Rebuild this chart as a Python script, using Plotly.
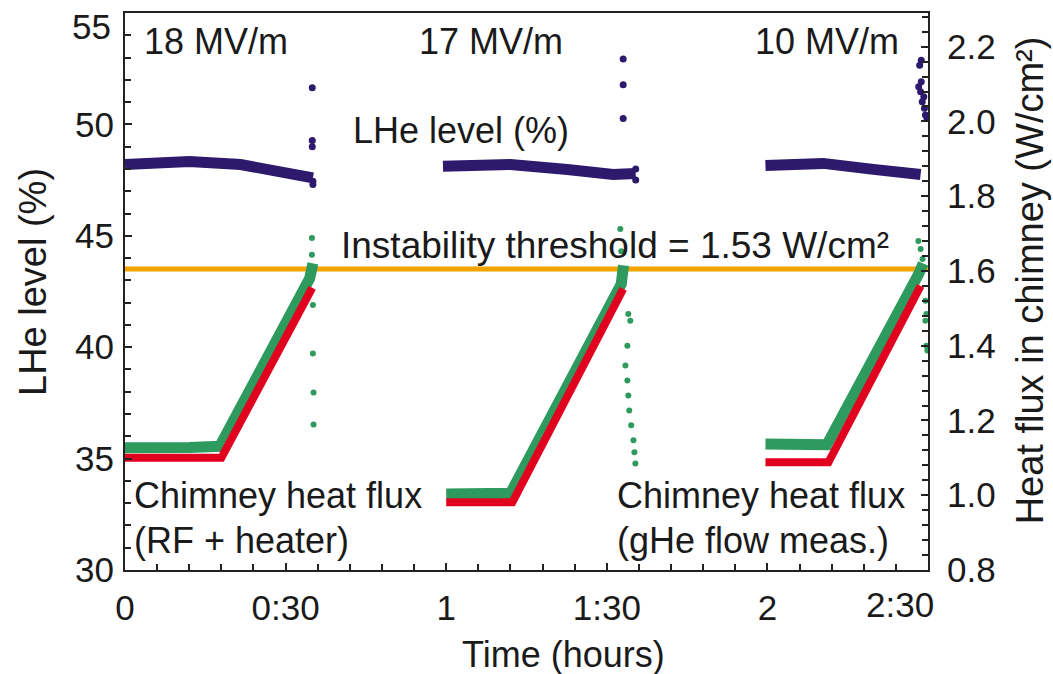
import plotly.graph_objects as go

# ---------------- data (time in hours) ----------------
# LHe level (%) - left axis, dense band per run
lhe_t1 = [0.0, 0.2, 0.36, 0.475, 0.57, 0.585]
lhe_v1 = [48.2, 48.33, 48.2, 47.95, 47.75, 47.6]
lhe_t2 = [0.99, 1.2, 1.377, 1.52, 1.59]
lhe_v2 = [48.12, 48.2, 47.98, 47.75, 47.8]
lhe_t3 = [1.994, 2.174, 2.33, 2.477]
lhe_v3 = [48.16, 48.25, 47.98, 47.75]
# LHe level sparse points at end of runs
lhe_pts_t = [0.583, 0.583, 0.583, 0.585, 0.585,
             1.551, 1.551, 1.551, 1.59, 1.59,
             2.479, 2.474, 2.479, 2.471, 2.477, 2.487, 2.482, 2.489, 2.492, 2.497]
lhe_pts_v = [51.65, 49.28, 49.0, 47.45, 47.3,
             52.94, 51.78, 50.26, 47.5, 48.0,
             52.88, 52.66, 51.91, 51.69, 51.47, 51.24, 51.02, 50.72, 50.42, 50.27]

# Chimney heat flux from gHe flow measurement (W/cm2) - right axis
ghe_t1 = [0.0, 0.10, 0.20, 0.295, 0.575, 0.585]
ghe_q1 = [1.127, 1.131, 1.128, 1.131, 1.58, 1.62]
ghe_t2 = [1.0, 1.10, 1.2, 1.545, 1.552]
ghe_q2 = [1.003, 1.007, 1.005, 1.565, 1.615]
ghe_t3 = [1.994, 2.10, 2.185, 2.47, 2.485]
ghe_q3 = [1.137, 1.132, 1.135, 1.59, 1.62]
ghe_pts_t = [0.582, 0.582, 0.585, 0.585, 0.587, 0.587,
             1.542, 1.545, 1.567, 1.573, 1.564, 1.558, 1.564, 1.567, 1.570, 1.576, 1.583, 1.586, 1.589,
             2.470, 2.477, 2.483, 2.492, 2.495, 2.492, 2.495, 2.498]
ghe_pts_q = [1.688, 1.643, 1.509, 1.379, 1.275, 1.189,
             1.712, 1.653, 1.485, 1.467, 1.40, 1.347, 1.307, 1.267, 1.227, 1.187, 1.147, 1.115, 1.085,
             1.68, 1.659, 1.632, 1.52, 1.485, 1.467, 1.40, 1.387]

# Chimney heat flux from RF + heater (W/cm2) - right axis
rf_t1 = [0.0, 0.30, 0.583]
rf_q1 = [1.10, 1.10, 1.555]
rf_t2 = [1.0, 1.206, 1.551]
rf_q2 = [0.981, 0.981, 1.552]
rf_t3 = [1.994, 2.19, 2.477]
rf_q3 = [1.088, 1.088, 1.56]

# Instability threshold line
thr_t = [0.0, 2.5]
thr_q = [1.605, 1.605]

# tick labels (edge labels drawn separately, nudged inside like the original)
x_tickvals = [0, 0.5, 1, 1.5, 2, 2.5]
x_ticktext = ["0", "0:30", "1", "1:30", "2", ""]
x_edge_label = "2:30"
y_tickvals = [30, 35, 40, 45, 50, 55]
y_ticktext = ["30", "35", "40", "45", "50", ""]
y_edge_label = "55"
y2_tickvals = [0.8, 1.0, 1.2, 1.4, 1.6, 1.8, 2.0, 2.2]
y2_ticktext = ["0.8", "1.0", "1.2", "1.4", "1.6", "1.8", "2.0", "2.2"]


def join(*segs):
    xs, ys = [], []
    for i, (a, b) in enumerate(segs):
        if i:
            xs.append(None)
            ys.append(None)
        xs += a
        ys += b
    return xs, ys


PURPLE = "#2E1A6C"
GREEN = "#2E9A5E"
RED = "#E2001F"
ORANGE = "#F2A300"
INK = "#1A1A1A"
FONT = "Liberation Sans, Arial, sans-serif"

fig = go.Figure()

fig.add_trace(go.Scatter(x=thr_t, y=thr_q, yaxis="y2", mode="lines",
                         line=dict(color=ORANGE, width=5), showlegend=False))

gx, gy = join((ghe_t1, ghe_q1), (ghe_t2, ghe_q2), (ghe_t3, ghe_q3))
fig.add_trace(go.Scatter(x=gx, y=gy, yaxis="y2", mode="lines",
                         line=dict(color=GREEN, width=11), showlegend=False))
fig.add_trace(go.Scatter(x=ghe_pts_t, y=ghe_pts_q, yaxis="y2", mode="markers",
                         marker=dict(color=GREEN, size=6), showlegend=False))

rx, ry = join((rf_t1, rf_q1), (rf_t2, rf_q2), (rf_t3, rf_q3))
fig.add_trace(go.Scatter(x=rx, y=ry, yaxis="y2", mode="lines",
                         line=dict(color=RED, width=8), showlegend=False))

px_, py_ = join((lhe_t1, lhe_v1), (lhe_t2, lhe_v2), (lhe_t3, lhe_v3))
fig.add_trace(go.Scatter(x=px_, y=py_, mode="lines",
                         line=dict(color=PURPLE, width=11), showlegend=False))
fig.add_trace(go.Scatter(x=lhe_pts_t, y=lhe_pts_v, mode="markers",
                         marker=dict(color=PURPLE, size=7), showlegend=False))

tickfont = dict(family=FONT, size=35, color=INK)
axline = dict(showline=True, linecolor="#222222", linewidth=2, showgrid=False,
              zeroline=False, ticks="inside", ticklen=7, tickwidth=2, tickcolor="#222222")

fig.update_layout(
    width=1053, height=674,
    margin=dict(l=125, r=125, t=11, b=104),
    paper_bgcolor="white", plot_bgcolor="white",
    showlegend=False,
    xaxis=dict(range=[0, 2.5], tickvals=x_tickvals, ticktext=x_ticktext,
               tickfont=tickfont, mirror=True, ticklabelstandoff=6,
               minor=dict(dtick=0.1, tick0=0, ticks="inside", ticklen=6, tickwidth=2,
                          tickcolor="#222222"),
               **axline),
    yaxis=dict(range=[30, 55], tickvals=y_tickvals, ticktext=y_ticktext, tickfont=tickfont,
               ticklabelstandoff=2,
               minor=dict(dtick=1, tick0=30, ticks="inside", ticklen=6, tickwidth=2,
                          tickcolor="#222222"),
               **axline),
    yaxis2=dict(range=[0.8, 2.29], overlaying="y", side="right",
                tickvals=y2_tickvals, ticktext=y2_ticktext, tickfont=tickfont,
                ticklabelstandoff=10,
                minor=dict(dtick=0.04, tick0=0.8, ticks="inside", ticklen=6, tickwidth=2,
                           tickcolor="#222222"),
                **axline),
)

# edge tick labels, nudged inside the figure as in the original
fig.add_annotation(text=y_edge_label, xref="paper", yref="paper", x=-0.0149, y=0.975,
                   xanchor="right", yanchor="middle", showarrow=False, font=tickfont)
fig.add_annotation(text=x_edge_label, xref="paper", yref="paper", x=0.965, y=-0.0626,
                   xanchor="center", yanchor="middle", showarrow=False, font=tickfont)

tf = dict(family=FONT, size=36, color=INK)
ann = [
    dict(text="18 MV/m", x=0.283, y=53.70, xanchor="center", yanchor="middle"),
    dict(text="17 MV/m", x=1.139, y=53.70, xanchor="center", yanchor="middle"),
    dict(text="10 MV/m", x=2.186, y=53.70, xanchor="center", yanchor="middle"),
    dict(text="LHe level (%)", x=1.046, y=49.72, xanchor="center", yanchor="middle"),
    dict(text="Instability threshold = 1.53 W/cm²", x=0.667, y=44.58,
         xanchor="left", yanchor="middle", font=dict(family=FONT, size=37, color=INK)),
    dict(text="Chimney heat flux", x=0.0218, y=33.35, xanchor="left", yanchor="middle"),
    dict(text="(RF + heater)", x=0.0218, y=31.34, xanchor="left", yanchor="middle"),
    dict(text="Chimney heat flux", x=1.5255, y=33.35, xanchor="left", yanchor="middle"),
    dict(text="(gHe flow meas.)", x=1.5255, y=31.34, xanchor="left", yanchor="middle"),
]
for a in ann:
    a.setdefault("font", tf)
    fig.add_annotation(xref="x", yref="y", showarrow=False, **a)

tt = dict(family=FONT, size=38, color=INK)
fig.add_annotation(text="LHe level (%)", xref="paper", yref="paper", x=-0.1146, y=0.517,
                   textangle=-90, showarrow=False, xanchor="center", yanchor="middle", font=tt)
fig.add_annotation(text="Heat flux in chimney (W/cm²)", xref="paper", yref="paper",
                   x=1.127, y=0.52, textangle=-90, showarrow=False,
                   xanchor="center", yanchor="middle", font=tt)
fig.add_annotation(text="Time (hours)", xref="paper", yref="paper", x=0.5455, y=-0.152,
                   showarrow=False, xanchor="center", yanchor="middle", font=tf)

fig.write_html("out.html")
